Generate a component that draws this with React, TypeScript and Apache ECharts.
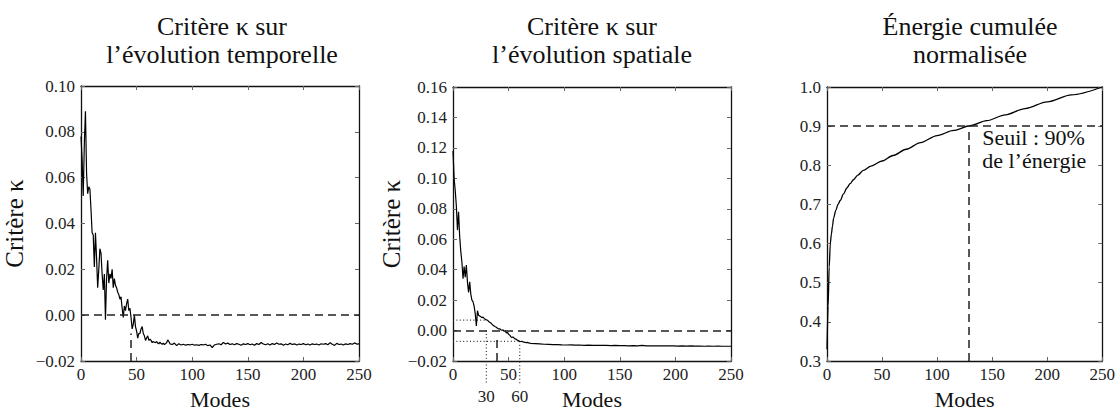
import React, { useEffect, useRef } from "react";
import * as echarts from "echarts";

// ---------- data ----------
const MODE_MIN = 0;
const MODE_MAX = 250;
const MODE_STEP = 50;

// Critère kappa, évolution temporelle: one value per mode for modes 0..80
const temporalKappaHead = [
  0.078, 0.068, 0.052, 0.075, 0.089, 0.062, 0.053, 0.056, 0.055, 0.046,
  0.036, 0.035, 0.021, 0.036, 0.025, 0.012, 0.02, 0.029, 0.027, 0.018,
  0.011, 0.018, -0.002, 0.016, 0.024, 0.014, 0.018, 0.016, 0.02, 0.012,
  0.016, 0.013, 0.012, 0.01, 0.009, 0.007, 0.008, 0.003, -0.001, 0.004,
  0.002, 0.005, 0.007, 0.002, 0.003, -0.001, -0.006, -0.004, 0.0, -0.005,
  -0.007, -0.01, -0.008, -0.008, -0.006, -0.005, -0.008, -0.009, -0.011, -0.01,
  -0.009, -0.011, -0.0105, -0.011, -0.012, -0.0115, -0.0118, -0.012, -0.0115, -0.0122,
  -0.0125, -0.0118, -0.0124, -0.0127, -0.0122, -0.0128, -0.0125, -0.012, -0.0108, -0.0115,
  -0.0125,
];
// modes 82..250, every 2 modes
const temporalKappaTailStart = 82;
const temporalKappaTailStep = 2;
const temporalKappaTail = [
  -0.0128, -0.0122, -0.0133, -0.0125, -0.013, -0.0127, -0.0131, -0.0128, -0.013, -0.0127,
  -0.0131, -0.0129, -0.0132, -0.0128, -0.013, -0.0127, -0.0133, -0.013, -0.0142, -0.013,
  -0.0127, -0.0125, -0.0129, -0.0119, -0.0126, -0.0122, -0.0128, -0.0125, -0.0129, -0.0124,
  -0.0127, -0.0131, -0.0125, -0.0128, -0.0124, -0.0129, -0.0126, -0.0131, -0.0124, -0.0128,
  -0.0119, -0.0126, -0.0129, -0.0125, -0.013, -0.0124, -0.0128, -0.0121, -0.0127, -0.0125,
  -0.0131, -0.0126, -0.0129, -0.0123, -0.0128, -0.0125, -0.013, -0.0126, -0.0128, -0.0124,
  -0.0129, -0.0126, -0.013, -0.0125, -0.0128, -0.0126, -0.013, -0.0125, -0.0127, -0.0124,
  -0.0129, -0.012, -0.0127, -0.0132, -0.0123, -0.0128, -0.0126, -0.013, -0.0125, -0.0128,
  -0.0124, -0.0127, -0.0121, -0.0126, -0.0125,
];

// Critère kappa, évolution spatiale: one value per mode for modes 0..70
const spatialKappaHead = [
  0.118, 0.1, 0.092, 0.082, 0.066, 0.078, 0.062, 0.052, 0.045, 0.034,
  0.042, 0.035, 0.043, 0.032, 0.025, 0.032, 0.024, 0.02, 0.019, 0.016,
  0.011, 0.003, 0.013, 0.01, 0.0095, 0.009, 0.0085, 0.0088, 0.008, 0.0075,
  0.007, 0.0068, 0.006, 0.0055, 0.005, 0.0042, 0.0035, 0.003, 0.0025, 0.0022,
  0.0015, 0.001, 0.0012, 0.0005, 0.0002, 0.0004, -0.0005, -0.0002, -0.0015, -0.0012,
  -0.0025, -0.003, -0.004, -0.0045, -0.0042, -0.005, -0.0055, -0.0058, -0.0063, -0.0067,
  -0.0071, -0.0072, -0.0071, -0.0074, -0.0076, -0.0078, -0.0079, -0.0078, -0.0081, -0.0082,
  -0.0084,
];
// modes 74..250, every 4 modes
const spatialKappaTailStart = 74;
const spatialKappaTailStep = 4;
const spatialKappaTail = [
  -0.0086, -0.0088, -0.009, -0.0091, -0.0093, -0.0092, -0.0094, -0.0095, -0.0094, -0.0096,
  -0.0095, -0.0097, -0.0096, -0.0097, -0.0098, -0.0097, -0.0098, -0.0099, -0.0098, -0.0099,
  -0.0099, -0.01, -0.0099, -0.01, -0.0098, -0.01, -0.0101, -0.01, -0.0101, -0.01,
  -0.0101, -0.0101, -0.0102, -0.0101, -0.0102, -0.0101, -0.0102, -0.0102, -0.0103, -0.0102,
  -0.0103, -0.0102, -0.0103, -0.0103, -0.0103,
];

// Énergie cumulée normalisée
const energyModes = [0, 1, 2, 3, 4, 5, 6, 8, 10, 12, 15, 18, 21, 24, 28, 33, 40, 50, 60, 72, 85, 100, 115, 130, 145, 162, 180, 200, 222, 250];
const energyValues = [0.33, 0.44, 0.54, 0.6, 0.625, 0.645, 0.665, 0.685, 0.7, 0.71, 0.727, 0.742, 0.753, 0.763, 0.775, 0.787, 0.798, 0.811, 0.825, 0.841, 0.858, 0.876, 0.889, 0.901, 0.914, 0.929, 0.945, 0.962, 0.98, 1.0];

// axis ranges
const temporalY = { min: -0.02, max: 0.1, interval: 0.02 };
const spatialY = { min: -0.02, max: 0.16, interval: 0.02 };
const energyY = { min: 0.3, max: 1.0, interval: 0.1 };

// annotations
const temporalCut = { mode: 45, top: -0.008 };
const spatialCut = { mode: 39, top: -0.005 };
const spatialBand = [
  // [mode, horizontal level, top of vertical line]
  [30, 0.0068, 0.0],
  [60, -0.0071, -0.0071],
];
const energyThreshold = 0.9;
const energyThresholdMode = 129;
const energyNote = { mode: 141, value: 0.842, text: "Seuil : 90%\nde l’énergie" };

const yAxisTitle = "Critère κ";
const titles = [
  { text: "Critère κ sur\nl’évolution temporelle", x: 222 },
  { text: "Critère κ sur\nl’évolution spatiale", x: 592 },
  { text: "Énergie cumulée\nnormalisée", x: 970 },
];

// ---------- helpers ----------
const FONT = "Liberation Serif";
const INK = "#111";

const build = (head: number[], tail: number[], tailStart: number, tailStep: number) =>
  head.map((v, i) => [i, v]).concat(tail.map((v, i) => [tailStart + i * tailStep, v]));

const fmt = (digits: number) => (v: number) => {
  const x = Math.abs(v) < 1e-9 ? 0 : v;
  return x.toFixed(digits).replace("-", "\u2212");
};

const grids = [
  { left: 81, top: 86, width: 278, height: 281 },
  { left: 453, top: 87, width: 278, height: 280 },
  { left: 827, top: 87, width: 278, height: 280 },
];

const tickStyle = { show: true, inside: true, length: 4, lineStyle: { color: "#666", width: 1 } };
const spine = { show: true, onZero: false, lineStyle: { color: INK, width: 1.3 } };

function xAxes() {
  const out: any[] = [];
  grids.forEach((_, i) => {
    out.push({
      type: "value",
      gridIndex: i,
      position: "bottom",
      min: MODE_MIN,
      max: MODE_MAX,
      interval: MODE_STEP,
      axisLine: spine,
      axisTick: tickStyle,
      splitLine: { show: false },
      axisLabel: {
        margin: 5,
        fontFamily: FONT,
        fontSize: 17,
        color: "#222",
        showMinLabel: true,
        showMaxLabel: true,
      },
      name: "Modes",
      nameLocation: "middle",
      nameGap: 27,
      nameTextStyle: { fontFamily: FONT, fontSize: 22, color: INK },
    });
  });
  grids.forEach((_, i) => {
    out.push({
      type: "value",
      gridIndex: i,
      position: "top",
      min: MODE_MIN,
      max: MODE_MAX,
      interval: MODE_STEP,
      axisLine: spine,
      axisTick: tickStyle,
      splitLine: { show: false },
      axisLabel: { show: false },
    });
  });
  return out;
}

function yAxes() {
  const ranges = [temporalY, spatialY, energyY];
  const digits = [2, 2, 1];
  const names = [yAxisTitle, yAxisTitle, ""];
  const gaps = [54, 46, 0];
  const out: any[] = [];
  ranges.forEach((r, i) => {
    out.push({
      type: "value",
      gridIndex: i,
      position: "left",
      min: r.min,
      max: r.max,
      interval: r.interval,
      axisLine: spine,
      axisTick: tickStyle,
      splitLine: { show: false },
      axisLabel: {
        margin: 6,
        fontFamily: FONT,
        fontSize: 17,
        color: "#222",
        formatter: fmt(digits[i]),
        showMinLabel: true,
        showMaxLabel: true,
      },
      name: names[i],
      nameLocation: "middle",
      nameRotate: 90,
      nameGap: gaps[i],
      nameTextStyle: { fontFamily: FONT, fontSize: 25, color: INK },
    });
  });
  ranges.forEach((r, i) => {
    out.push({
      type: "value",
      gridIndex: i,
      position: "right",
      min: r.min,
      max: r.max,
      interval: r.interval,
      axisLine: spine,
      axisTick: tickStyle,
      splitLine: { show: false },
      axisLabel: { show: false },
    });
  });
  return out;
}

const dashed = { type: [8, 5] as any, color: "#222", width: 1.5 };
const dotted = { stroke: "#333", lineWidth: 1.2, lineDash: [1, 2.4] };

export default function App() {
  const ref = useRef<HTMLDivElement>(null);

  useEffect(() => {
    if (!ref.current) return;
    const chart = echarts.init(ref.current, undefined, { renderer: "svg" });

    const option: any = {
      animation: false,
      backgroundColor: "#fff",
      textStyle: { fontFamily: FONT },
      grid: grids,
      xAxis: xAxes(),
      yAxis: yAxes(),
      graphic: titles.map((t) => ({
        type: "text",
        x: t.x,
        y: 12,
        silent: true,
        style: {
          text: t.text,
          fontFamily: FONT,
          fontSize: 26,
          lineHeight: 28,
          fill: INK,
          align: "center",
          verticalAlign: "top",
        },
      })),
      series: [
        {
          type: "line",
          xAxisIndex: 0,
          yAxisIndex: 0,
          data: build(temporalKappaHead, temporalKappaTail, temporalKappaTailStart, temporalKappaTailStep),
          symbol: "none",
          lineStyle: { color: "#000", width: 1.2 },
          markLine: {
            silent: true,
            symbol: ["none", "none"],
            label: { show: false },
            lineStyle: dashed,
            data: [
              { yAxis: 0 },
              [{ coord: [temporalCut.mode, temporalY.min] }, { coord: [temporalCut.mode, temporalCut.top] }],
            ],
          },
        },
        {
          type: "line",
          xAxisIndex: 1,
          yAxisIndex: 1,
          data: build(spatialKappaHead, spatialKappaTail, spatialKappaTailStart, spatialKappaTailStep),
          symbol: "none",
          lineStyle: { color: "#000", width: 1.2 },
          markLine: {
            silent: true,
            symbol: ["none", "none"],
            label: { show: false },
            lineStyle: dashed,
            data: [
              { yAxis: 0 },
              [{ coord: [spatialCut.mode, spatialY.min] }, { coord: [spatialCut.mode, spatialCut.top] }],
            ],
          },
        },
        {
          type: "custom",
          xAxisIndex: 1,
          yAxisIndex: 1,
          clip: false,
          silent: true,
          data: spatialBand,
          renderItem: (_p: any, api: any) => {
            const m = api.value(0);
            const h = api.value(1);
            const vt = api.value(2);
            const a = api.coord([MODE_MIN, h]);
            const b = api.coord([m, h]);
            const c = api.coord([m, vt]);
            const d = api.coord([m, spatialY.min]);
            return {
              type: "group",
              children: [
                { type: "line", shape: { x1: a[0], y1: a[1], x2: b[0], y2: b[1] }, style: dotted },
                { type: "line", shape: { x1: c[0], y1: c[1], x2: d[0], y2: d[1] + 24 }, style: dotted },
                {
                  type: "text",
                  x: d[0],
                  y: d[1] + 35,
                  style: {
                    text: String(m),
                    fontFamily: FONT,
                    fontSize: 17,
                    fill: "#222",
                    align: "center",
                    verticalAlign: "middle",
                  },
                },
              ],
            };
          },
        },
        {
          type: "line",
          xAxisIndex: 2,
          yAxisIndex: 2,
          data: energyModes.map((m, i) => [m, energyValues[i]]),
          symbol: "none",
          smooth: 0.3,
          smoothMonotone: "x",
          lineStyle: { color: "#000", width: 1.3 },
          markLine: {
            silent: true,
            symbol: ["none", "none"],
            label: { show: false },
            lineStyle: dashed,
            data: [
              { yAxis: energyThreshold },
              [{ coord: [energyThresholdMode, energyY.min] }, { coord: [energyThresholdMode, energyThreshold] }],
            ],
          },
        },
        {
          type: "custom",
          xAxisIndex: 2,
          yAxisIndex: 2,
          clip: false,
          silent: true,
          data: [[energyNote.mode, energyNote.value]],
          renderItem: (_p: any, api: any) => {
            const p = api.coord([api.value(0), api.value(1)]);
            return {
              type: "text",
              x: p[0],
              y: p[1],
              style: {
                text: energyNote.text,
                fontFamily: FONT,
                fontSize: 22,
                lineHeight: 23,
                fill: INK,
                align: "left",
                verticalAlign: "middle",
              },
            };
          },
        },
      ],
    };

    chart.setOption(option);
    return () => chart.dispose();
  }, []);

  return (
    <div
      ref={ref}
      style={{ position: "absolute", left: 0, top: 0, width: 1118, height: 415, background: "#fff" }}
    />
  );
}
